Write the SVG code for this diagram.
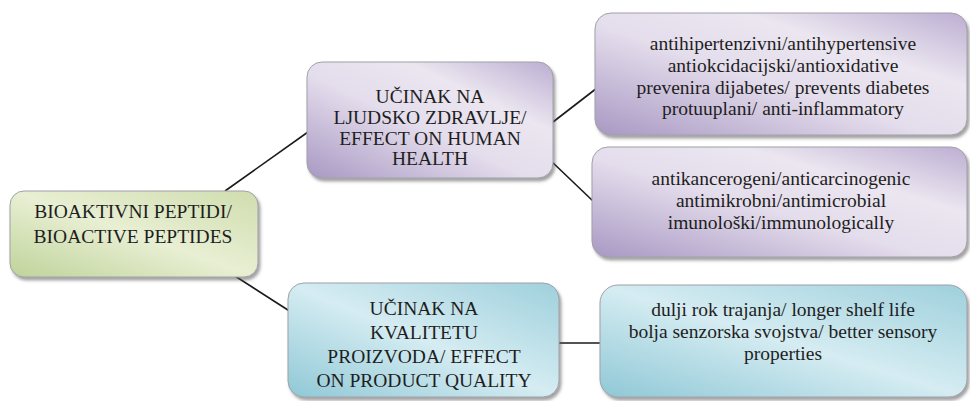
<svg xmlns="http://www.w3.org/2000/svg" width="970" height="401" viewBox="0 0 970 401">
<defs>
<linearGradient id="gPurple" x1="0" y1="1" x2="1" y2="0">
<stop offset="0" stop-color="#a898c3"/>
<stop offset="0.45" stop-color="#e4ddec"/>
<stop offset="0.7" stop-color="#ebe6f0"/>
<stop offset="1" stop-color="#bcaed2"/>
</linearGradient>
<linearGradient id="gGreen" x1="0" y1="1" x2="1" y2="0">
<stop offset="0" stop-color="#bfd39a"/>
<stop offset="0.5" stop-color="#e8efd3"/>
<stop offset="1" stop-color="#cfddae"/>
</linearGradient>
<linearGradient id="gBlue" x1="0" y1="1" x2="1" y2="0">
<stop offset="0" stop-color="#8fc8d6"/>
<stop offset="0.5" stop-color="#d5ecf2"/>
<stop offset="1" stop-color="#9ed0dc"/>
</linearGradient>
<filter id="sh" x="-5%" y="-5%" width="115%" height="120%">
<feDropShadow dx="2" dy="3" stdDeviation="1.5" flood-color="#555" flood-opacity="0.55"/>
</filter>
</defs>
<style>
.box{stroke:#a0a0a8;stroke-width:1;filter:url(#sh)}
.p{fill:url(#gPurple)}
.g{fill:url(#gGreen)}
.b{fill:url(#gBlue)}
.t{fill:#1e1e1e;text-anchor:middle;font-family:"Liberation Serif","DejaVu Serif",serif}
.cap{font-size:19.5px}
.sm{font-size:19.5px}
.con line{stroke:#1a1a1a;stroke-width:1.6}
</style>
<rect width="970" height="401" fill="#ffffff"/>
<g class="con" id="connectors">
<line x1="225" y1="191" x2="308" y2="132"/>
<line x1="235" y1="276" x2="291" y2="312"/>
<line x1="553" y1="122" x2="597" y2="88"/>
<line x1="550" y1="160" x2="594" y2="202"/>
<line x1="559" y1="343" x2="601" y2="343"/>
</g>
<g id="root">
<rect class="box g" x="10" y="191" width="248" height="86" rx="14"/>
<text class="t cap" x="133" y="218">BIOAKTIVNI PEPTIDI/</text>
<text class="t cap" x="133" y="243">BIOACTIVE PEPTIDES</text>
</g>
<g id="health">
<rect class="box p" x="307" y="62" width="246" height="116" rx="15"/>
<text class="t cap" x="430" y="103">UČINAK NA</text>
<text class="t cap" x="430" y="124">LJUDSKO ZDRAVLJE/</text>
<text class="t cap" x="430" y="145">EFFECT ON HUMAN</text>
<text class="t cap" x="430" y="165">HEALTH</text>
</g>
<g id="quality">
<rect class="box b" x="288" y="283" width="271" height="114" rx="16"/>
<text class="t cap" x="424" y="315">UČINAK NA</text>
<text class="t cap" x="424" y="339">KVALITETU</text>
<text class="t cap" x="424" y="363">PROIZVODA/ EFFECT</text>
<text class="t cap" x="424" y="387">ON PRODUCT QUALITY</text>
</g>
<g id="health-list1">
<rect class="box p" x="595" y="13" width="372" height="122" rx="16"/>
<text class="t sm" x="783" y="50">antihipertenzivni/antihypertensive</text>
<text class="t sm" x="783" y="72">antiokcidacijski/antioxidative</text>
<text class="t sm" x="783" y="94">prevenira dijabetes/ prevents diabetes</text>
<text class="t sm" x="783" y="115">protuuplani/ anti-inflammatory</text>
</g>
<g id="health-list2">
<rect class="box p" x="592" y="147" width="375" height="110" rx="16"/>
<text class="t sm" x="781" y="185">antikancerogeni/anticarcinogenic</text>
<text class="t sm" x="781" y="207">antimikrobni/antimicrobial</text>
<text class="t sm" x="781" y="229">imunološki/immunologically</text>
</g>
<g id="quality-list">
<rect class="box b" x="600" y="285" width="367" height="112" rx="18"/>
<text class="t sm" x="783" y="316">dulji rok trajanja/ longer shelf life</text>
<text class="t sm" x="783" y="338">bolja senzorska svojstva/ better sensory</text>
<text class="t sm" x="783" y="360">properties</text>
</g>
</svg>
